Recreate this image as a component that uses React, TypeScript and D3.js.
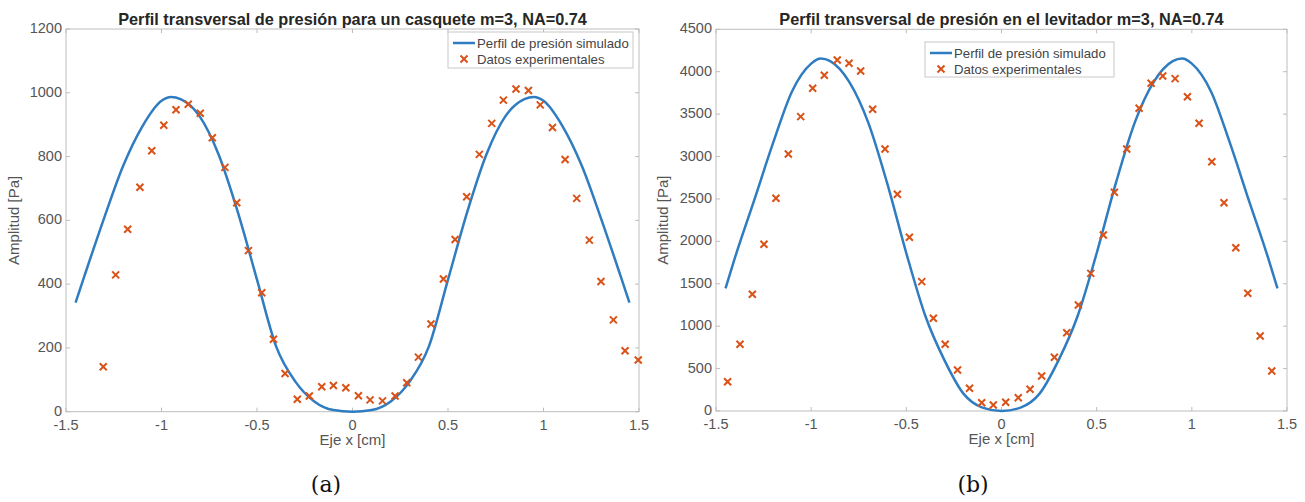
import React from "react";
import * as d3 from "d3";

// tick values / labels
const xTicks = [-1.5, -1, -0.5, 0, 0.5, 1, 1.5];
const xTickLabels = ["-1.5", "-1", "-0.5", "0", "0.5", "1", "1.5"];
const yTicksA = [0, 200, 400, 600, 800, 1000, 1200];
const yTicksB = [0, 500, 1000, 1500, 2000, 2500, 3000, 3500, 4000, 4500];

// simulated profile
const simX = [-1.45, -1.4, -1.3, -1.2, -1.1, -1.0, -0.95, -0.9, -0.8, -0.7, -0.6, -0.5, -0.4, -0.3, -0.2, -0.1, 0,
  0.1, 0.2, 0.3, 0.4, 0.5, 0.6, 0.7, 0.8, 0.9, 0.95, 1.0, 1.1, 1.2, 1.3, 1.4, 1.45];
const simA = [342, 432, 608, 772, 895, 975, 987, 980, 926, 805, 625, 414, 205, 95, 32, 5, 0,
  5, 32, 95, 205, 414, 625, 805, 926, 980, 987, 975, 895, 772, 608, 432, 342];
const simB = [1445, 1810, 2480, 3160, 3770, 4095, 4155, 4125, 3880, 3400, 2680, 1860, 1120, 600, 205, 40, 0,
  40, 205, 600, 1120, 1860, 2680, 3400, 3880, 4125, 4155, 4095, 3770, 3160, 2480, 1810, 1445];

// experimental data, panel (a)
const expXA = [-1.305, -1.24, -1.177, -1.113, -1.051, -0.988, -0.924, -0.86, -0.797, -0.734, -0.668, -0.606, -0.545,
  -0.475, -0.414, -0.353, -0.289, -0.226, -0.161, -0.1, -0.035, 0.031, 0.092, 0.157, 0.223, 0.284, 0.345, 0.411,
  0.476, 0.537, 0.598, 0.664, 0.729, 0.79, 0.856, 0.921, 0.983, 1.047, 1.113, 1.174, 1.24, 1.301, 1.366, 1.427, 1.496];
const expYA = [141, 429, 572, 704, 818, 898, 947, 964, 936, 859, 766, 655, 505, 373, 227, 120, 39, 49, 78, 82,
  75, 50, 37, 34, 49, 91, 171, 275, 416, 540, 674, 807, 904, 977, 1012, 1007, 962, 891, 791, 669, 538, 408, 288, 191, 162];

// experimental data, panel (b)
const expXB = [-1.439, -1.374, -1.309, -1.248, -1.185, -1.12, -1.055, -0.992, -0.931, -0.863, -0.801, -0.74, -0.677,
  -0.612, -0.547, -0.484, -0.419, -0.358, -0.296, -0.231, -0.168, -0.104, -0.043, 0.022, 0.088, 0.15, 0.211, 0.278,
  0.343, 0.404, 0.469, 0.535, 0.593, 0.658, 0.723, 0.786, 0.847, 0.912, 0.977, 1.038, 1.105, 1.169, 1.231, 1.294, 1.359, 1.42];
const expYB = [345, 786, 1376, 1965, 2508, 3030, 3470, 3805, 3958, 4138, 4099, 4009, 3557, 3089, 2555, 2048, 1525,
  1093, 786, 483, 268, 98, 71, 103, 157, 256, 413, 633, 923, 1250, 1623, 2075, 2578, 3089, 3569, 3863, 3950, 3918,
  3705, 3392, 2939, 2456, 1925, 1388, 884, 472];

const BLUE = "#2f7cc0";
const ORANGE = "#d95319";
const AXIS = "#bdbdbd";
const FONT = "'Liberation Sans', Arial, sans-serif";

const xMark = "M-3.5,-3.5L3.5,3.5M-3.5,3.5L3.5,-3.5";

function Panel({ box, yMax, yTicks, title, simY, expX, expY, legend, ylabX, caption, capX }) {
  const x = d3.scaleLinear().domain([-1.5, 1.5]).range([box.l, box.r]);
  const y = d3.scaleLinear().domain([0, yMax]).range([box.b, box.t]);
  const line = d3.line<number>()
    .x((d, i) => x(simX[i]))
    .y(d => y(d))
    .curve(d3.curveMonotoneX);
  const tk = 4;

  return (
    <g>
      {/* axes box + ticks */}
      <rect x={box.l} y={box.t} width={box.r - box.l} height={box.b - box.t} fill="none" stroke={AXIS} strokeWidth={1} />
      {xTicks.map(t => (
        <g key={"xt" + t}>
          <line x1={x(t)} x2={x(t)} y1={box.b} y2={box.b - tk} stroke={AXIS} />
          <line x1={x(t)} x2={x(t)} y1={box.t} y2={box.t + tk} stroke={AXIS} />
        </g>
      ))}
      {yTicks.map(t => (
        <g key={"yt" + t}>
          <line x1={box.l} x2={box.l + tk} y1={y(t)} y2={y(t)} stroke={AXIS} />
          <line x1={box.r} x2={box.r - tk} y1={y(t)} y2={y(t)} stroke={AXIS} />
        </g>
      ))}
      {xTicks.map((t, i) => (
        <text key={"xl" + t} x={x(t)} y={box.b + 18} textAnchor="middle" fontSize={14.5} fill="#555">{xTickLabels[i]}</text>
      ))}
      {yTicks.map(t => (
        <text key={"yl" + t} x={box.l - 4} y={y(t) - 1} dy="0.35em" textAnchor="end" fontSize={14.5} fill="#555">{t}</text>
      ))}

      {/* data */}
      <path d={line(simY) || ""} fill="none" stroke={BLUE} strokeWidth={2.5} />
      {expX.map((v, i) => (
        <path key={"m" + i} d={xMark} transform={`translate(${x(v)},${y(expY[i])})`} stroke={ORANGE} strokeWidth={2} fill="none" />
      ))}

      {/* labels */}
      <text x={(box.l + box.r) / 2} y={box.t - 4} textAnchor="middle" fontSize={16.3} fontWeight="bold" fill="#262626">{title}</text>
      <text x={(box.l + box.r) / 2} y={box.b + 33} textAnchor="middle" fontSize={15} fill="#555">Eje x [cm]</text>
      <text transform={`translate(${ylabX},${(box.t + box.b) / 2}) rotate(-90)`} textAnchor="middle" fontSize={15} fill="#555">Amplitud [Pa]</text>

      {/* legend */}
      <rect x={legend.x} y={legend.y} width={legend.w} height={legend.h} fill="#fff" stroke="#c8c8c8" />
      <line x1={legend.x + 5} x2={legend.x + 27} y1={legend.y + 11} y2={legend.y + 11} stroke={BLUE} strokeWidth={2.5} />
      <text x={legend.x + 29} y={legend.y + 11} dy="0.35em" fontSize={13.2} fill="#444">Perfil de presión simulado</text>
      <path d={xMark} transform={`translate(${legend.x + 16},${legend.y + 27})`} stroke={ORANGE} strokeWidth={2} fill="none" />
      <text x={legend.x + 29} y={legend.y + 27} dy="0.35em" fontSize={13.2} fill="#444">Datos experimentales</text>

      <text x={capX} y={492} textAnchor="middle" fontSize={22} fill="#111" fontFamily="'DejaVu Serif', serif">{caption}</text>
    </g>
  );
}

export default function App() {
  return (
    <svg width={1305} height={502} style={{ position: "absolute", left: 0, top: 0, background: "#fff" }} fontFamily={FONT}>
      <rect width={1305} height={502} fill="#fff" />
      <Panel
        box={{ l: 66, r: 639, t: 29, b: 411.7 }}
        yMax={1200}
        yTicks={yTicksA}
        title="Perfil transversal de presión para un casquete m=3, NA=0.74"
        simY={simA}
        expX={expXA}
        expY={expYA}
        legend={{ x: 448, y: 32, w: 185, h: 36 }}
        ylabX={19}
        caption="(a)"
        capX={326}
      />
      <Panel
        box={{ l: 716, r: 1287, t: 29.3, b: 411 }}
        yMax={4500}
        yTicks={yTicksB}
        title="Perfil transversal de presión en el levitador m=3, NA=0.74"
        simY={simB}
        expX={expXB}
        expY={expYB}
        legend={{ x: 925, y: 42, w: 189, h: 35 }}
        ylabX={668}
        caption="(b)"
        capX={973}
      />
    </svg>
  );
}
